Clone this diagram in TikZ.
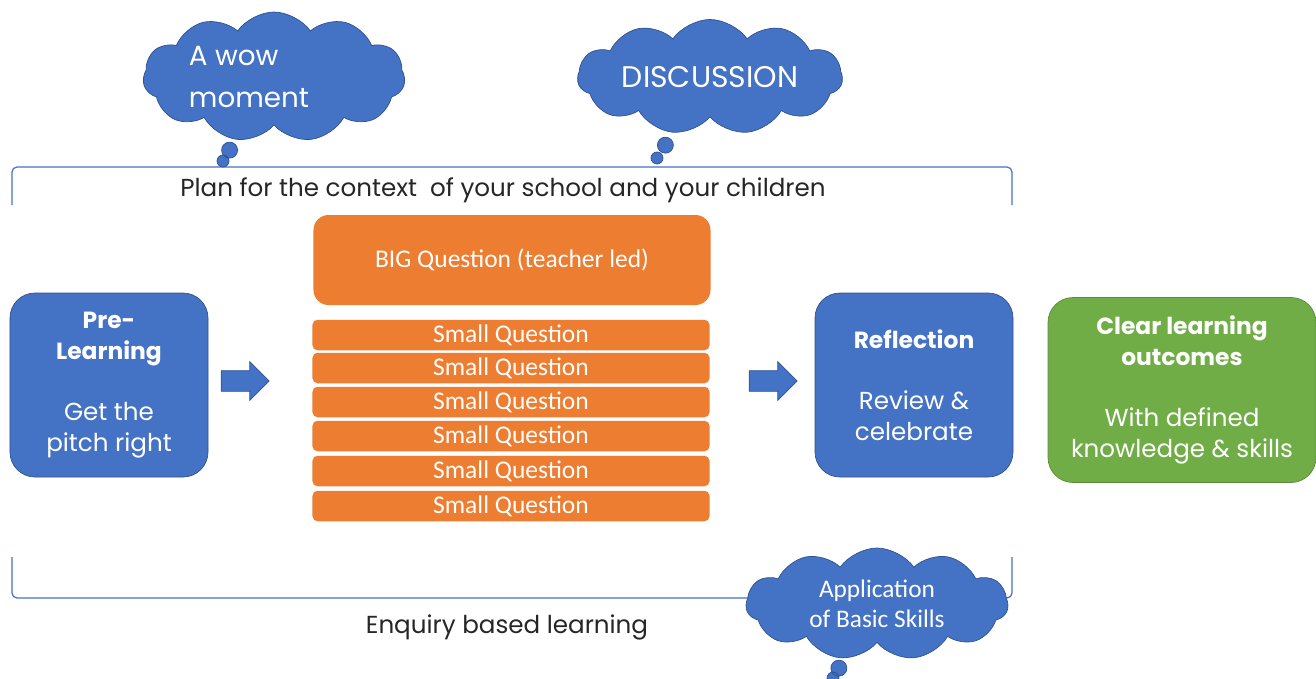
\documentclass[tikz,border=0pt]{standalone}
\usepackage{fontspec}
\setmainfont{Poppins}
\newfontfamily\calib{Carlito}
\usetikzlibrary{shapes.callouts,shapes.arrows,shapes.symbols}
\definecolor{pblue}{HTML}{4472C4}
\definecolor{pdark}{HTML}{2F528F}
\definecolor{porange}{HTML}{ED7D31}
\definecolor{pgreen}{HTML}{70AD47}
\newcommand{\boxhead}[1]{{\fontsize{13.3}{17.5}\selectfont\bfseries #1}}
\begin{document}
\begin{tikzpicture}[x=0.2mm, y=-0.2mm,
					bluebox/.style={rectangle, rounded corners=5mm, fill=pblue, draw=pdark, text=white, align=center, minimum width=39.6mm, minimum height=36.8mm, inner sep=0pt, font=\fontsize{14}{17.5}\selectfont},
					qbox/.style={rectangle, rounded corners=1mm, fill=porange, text=white, minimum width=79.4mm, minimum height=6.1mm, inner sep=0pt, font=\calib\fontsize{14.5}{16}\selectfont},
					bubble/.style={cloud callout, cloud puffs=11, cloud puff arc=110, cloud ignores aspect, callout pointer segments=2, callout pointer start size=4.4mm and 4mm, callout pointer end size=2.6mm and 2.4mm, fill=pblue, draw=pdark, text=white, inner sep=0pt, align=center},
					blockarrow/.style={single arrow, fill=pblue, draw=pdark, minimum height=9.6mm, minimum width=7.6mm, single arrow head extend=1.8mm, single arrow head indent=0pt, inner xsep=0pt, inner ysep=2mm}]
\useasboundingbox (0,0) rectangle (1316,679);

% brackets
\coordinate (tl) at (12,205);
\coordinate (tr) at (1012,205);
\coordinate (bl) at (12,557);
\coordinate (br) at (1012,557);
\draw[pblue, line width=0.7pt, rounded corners=1mm] (tl) -- (12,167) -- (1012,167) -- (tr);
\draw[pblue, line width=0.7pt, rounded corners=1mm] (bl) -- (12,598) -- (1012,598) -- (br);
\node[text=black!85, font=\fontsize{14}{17}\selectfont] (plan) at (503,190) {Plan for the context\ \ of your school and your children};
\node[text=black!85, font=\fontsize{14}{17}\selectfont] (enquiry) at (507,627) {Enquiry based learning};

% boxes
\node[bluebox] (prel) at (109,385) {\boxhead{Pre-}\\\boxhead{Learning}\\[17.5pt]Get the\\pitch right};
\node[blockarrow] (arr1) at (240,381) {};
\node[qbox, rounded corners=3mm, minimum height=18mm, font=\calib\fontsize{14.5}{16}\selectfont] (big) at (512,260) {BIG Question (teacher led)};
\foreach \y [count=\i] in {335,368,402,436,471,506}
    \node[qbox] (small\i) at (511,\y) {Small Question};
\node[blockarrow] (arr2) at (768,381) {};
\node[bluebox] (refl) at (914,385) {\boxhead{Reflection}\\[17.5pt]Review \&\\celebrate};
\node[bluebox, fill=pgreen, draw=pgreen!80!black, minimum width=53.6mm, minimum height=37mm] (goal) at (1182,390) {\boxhead{Clear learning}\\\boxhead{outcomes}\\[17.5pt]With defined\\knowledge \& skills};

% thought clouds
\node[bubble, minimum width=52.4mm, minimum height=26mm, align=left, font=\fontsize{15.8}{24}\selectfont, callout absolute pointer={(223,161)}] (wow) at (274,77) {A wow\\moment\hspace*{10mm}};
\node[bubble, minimum width=53mm, minimum height=23mm, font=\fontsize{17}{20}\selectfont, callout absolute pointer={(657,158)}] (disc) at (710,77) {DISCUSSION};
\node[bubble, minimum width=52.4mm, minimum height=22.4mm, font=\calib\fontsize{14.4}{17}\selectfont, callout absolute pointer={(833,678)}] (skills) at (877,604) {Application\\of Basic Skills};
\end{tikzpicture}
\end{document}
